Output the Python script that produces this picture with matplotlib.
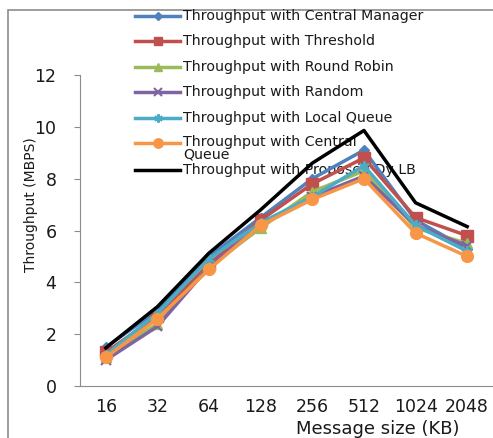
import matplotlib
matplotlib.use("Agg")
import matplotlib.pyplot as plt
from matplotlib.patches import Rectangle
from matplotlib.lines import Line2D

plt.rcParams['font.family'] = ['DejaVu Sans']

sizes = ["16", "32", "64", "128", "256", "512", "1024", "2048"]
central_manager = [1.5, 2.9, 5.0, 6.5, 8.0, 9.1, 6.4, 5.3]
threshold = [1.3, 2.7, 4.7, 6.4, 7.8, 8.8, 6.5, 5.8]
round_robin = [1.1, 2.4, 4.6, 6.1, 7.5, 8.3, 6.1, 5.5]
random_lb = [1.0, 2.3, 4.6, 6.2, 7.3, 8.1, 6.2, 5.4]
local_queue = [1.2, 2.8, 4.9, 6.3, 7.3, 8.5, 6.2, 5.2]
central_queue = [1.1, 2.6, 4.5, 6.2, 7.2, 8.0, 5.9, 5.0]
proposed = [1.47, 3.06, 5.13, 6.8, 8.6, 9.86, 7.07, 6.15]

labels = ["Throughput with Central Manager", "Throughput with Threshold",
          "Throughput with Round Robin", "Throughput with Random",
          "Throughput with Local Queue", "Throughput with Central\nQueue",
          "Throughput with Proposed Dy LB"]

W, H = 493, 438
fig = plt.figure(figsize=(W / 100, H / 100), dpi=100)
fig.patches.append(Rectangle((8 / W, -0.1), 1.2, (428 / H) + 0.1, transform=fig.transFigure,
                             fill=False, edgecolor='#8c8c8c', lw=1.2, zorder=-5))
ax = fig.add_axes([80 / W, 52 / H, 413 / W, 311 / H])
ax.patch.set_visible(False)
x = list(range(len(sizes)))

styles = [
    (central_manager, '#4F81BD', 'D', 5),
    (threshold, '#C0504D', 's', 8),
    (round_robin, '#9BBB59', '^', 6.5),
    (random_lb, '#8064A2', 'x', 6.5),
    (local_queue, '#4BACC6', (6, 2, 0), 7.5),
    (central_queue, '#F79646', 'o', 8.5),
    (proposed, 'black', None, 0),
]
text_c = '#1a1a1a'
row_y = [16, 41, 67, 92, 118, 143, 170]
for (vals, c, m, ms), lab, ry in zip(styles, labels, row_y):
    mew = 1.5 if m in ('x', (6, 2, 0)) else 1
    ax.plot(x, vals, color=c, marker=m, markersize=ms, lw=2.5,
            markeredgewidth=mew, zorder=4 if m is None else 3)
    # legend handle
    yf = 1 - ry / H
    fig.add_artist(Line2D([135 / W, 180 / W], [yf, yf], transform=fig.transFigure,
                          color=c, lw=2.5, zorder=-1))
    if m is not None:
        fig.add_artist(Line2D([157.5 / W], [yf], transform=fig.transFigure, color=c,
                              marker=m, markersize=ms * 0.8, markeredgewidth=mew,
                              lw=0, zorder=-1))
    if "\n" in lab:
        fig.text(183 / W, 1 - (ry - 8) / H, lab, fontsize=10.2, color=text_c,
                 va='top', ha='left', linespacing=0.88, zorder=-1)
    else:
        fig.text(183 / W, yf, lab, fontsize=10.2, color=text_c,
                 va='center', ha='left', zorder=-1)

ax.set_xlim(-0.5, 7.5)
ax.set_ylim(0, 12)
ax.set_yticks(range(0, 13, 2))
ax.set_xticks(x)
ax.set_xticklabels(sizes)
for s in ['top', 'right']:
    ax.spines[s].set_visible(False)
for s in ['left', 'bottom']:
    ax.spines[s].set_color('#8c8c8c')
ax.tick_params(axis='y', colors='#8c8c8c', labelcolor=text_c, labelsize=12.5, length=4, pad=13)
ax.tick_params(axis='x', length=0, labelsize=12.5, labelcolor=text_c, pad=9)
ax.set_xlabel("Message size (KB)", fontsize=13, color=text_c)
ax.xaxis.set_label_coords((378 - 80) / 413, -(429 - 386) / 311)
ax.xaxis.label.set_va('center')
ax.set_ylabel("Throughput (MBPS)", fontsize=10, color=text_c)
ax.yaxis.set_label_coords((31 - 80) / 413, (386 - 205) / 311)
ax.yaxis.label.set_va('center')

fig.savefig("out.png", dpi=100)
